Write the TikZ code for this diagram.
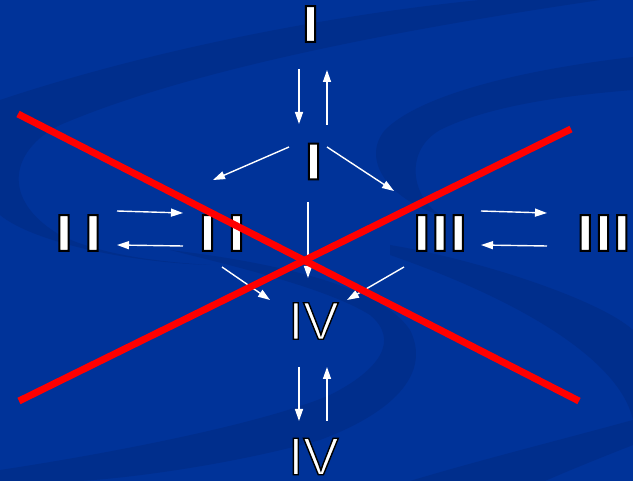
\documentclass[tikz,border=0pt]{standalone}
\usepackage{fontspec}
\usetikzlibrary{arrows.meta}
\newfontfamily\barfont{DejaVu Sans}
\newfontfamily\ivfont{Liberation Sans}
\definecolor{bgblue}{RGB}{0,51,153}
\definecolor{swirl}{RGB}{0,46,140}
\newcommand\olt[2]{\special{pdf:literal direct #1 w 0 0 0 RG 2 Tr}#2\special{pdf:literal direct 0 Tr}}
\tikzset{
  barnum/.style={font=\barfont\bfseries\fontsize{49}{49}\selectfont, text=white, inner sep=0pt},
  thinnum/.style={font=\ivfont\fontsize{53}{53}\selectfont, text=white, inner sep=0pt},
  arr/.style={white, line width=1.4pt, -{Triangle[length=12pt,width=8pt]}},
  cross/.style={red, line width=7pt},
  band/.style={fill=swirl}
}
\begin{document}
\begin{tikzpicture}[x=1pt,y=-1pt]
\fill[bgblue] (0,0) rectangle (633,481);
\useasboundingbox (0,0) rectangle (633,481);
% background swirls
\fill[band] (0,100) .. controls (150,50) and (330,15) .. (480,0) -- (600,0)
  .. controls (430,25) and (200,65) .. (60,125) .. controls (10,150) and (0,200) .. (60,235)
  .. controls (100,255) and (160,262) .. (210,265) .. controls (120,262) and (30,240) .. (0,215) -- cycle;
\fill[band] (633,57) .. controls (520,70) and (420,95) .. (385,130) .. controls (360,160) and (390,200) .. (440,215)
  .. controls (410,195) and (405,150) .. (440,130) .. controls (490,105) and (570,95) .. (633,90) -- cycle;
\fill[band] (390,245) .. controls (480,260) and (600,300) .. (633,330) -- (633,420)
  .. controls (620,360) and (520,300) .. (390,255) -- cycle;
\fill[band] (410,481) .. controls (480,460) and (560,440) .. (633,420) -- (633,445)
  .. controls (600,458) and (570,470) .. (545,481) -- cycle;
\fill[band] (0,481) -- (0,470) .. controls (100,455) and (260,425) .. (330,395)
  .. controls (380,370) and (400,340) .. (370,315) .. controls (330,290) and (250,270) .. (170,250)
  .. controls (270,262) and (380,285) .. (410,330) .. controls (430,370) and (400,410) .. (320,440)
  .. controls (230,465) and (130,478) .. (80,481) -- cycle;
% numerals
\node[barnum] (Itop) at (310.5,24) {\olt{2}{I}};
\node[barnum] (Imid) at (313.5,161.5) {\olt{2}{I}};
\node[barnum] (IIl) at (78.5,233) {\olt{2}{I\hspace{10.8pt}I}};
\node[barnum] (IIm) at (222,233) {\olt{2}{I\hspace{10.8pt}I}};
\node[barnum] (IIIm) at (440,233) {\olt{2}{III}};
\node[barnum] (IIIr) at (603.5,233) {\olt{2}{III}};
\node[thinnum] (IVm) at (313.5,321) {\olt{1.4}{IV}};
\node[thinnum] (IVb) at (313.5,456.5) {\olt{1.4}{IV}};
% arrow end points
\coordinate (a1s) at (299,69);  \coordinate (a1e) at (299,124);
\coordinate (a2s) at (327,125); \coordinate (a2e) at (327,70);
\coordinate (a3s) at (289,147); \coordinate (a3e) at (213,180);
\coordinate (a4s) at (327,147); \coordinate (a4e) at (394,191);
\coordinate (a5s) at (117,211); \coordinate (a5e) at (183,213);
\coordinate (a6s) at (183,246); \coordinate (a6e) at (117,245);
\coordinate (a7s) at (481,211); \coordinate (a7e) at (547,213);
\coordinate (a8s) at (547,246); \coordinate (a8e) at (481,245);
\coordinate (a9s) at (308,202); \coordinate (a9e) at (308,278);
\coordinate (a10s) at (222,267); \coordinate (a10e) at (270,300);
\coordinate (a11s) at (404,267); \coordinate (a11e) at (347,300);
\coordinate (a12s) at (299,367); \coordinate (a12e) at (299,421);
\coordinate (a13s) at (327,421); \coordinate (a13e) at (327,367);
\foreach \k in {1,...,13} { \draw[arr] (a\k s) -- (a\k e); }
% red cross
\coordinate (r1s) at (18,114);  \coordinate (r1e) at (579,401);
\coordinate (r2s) at (19,401);  \coordinate (r2e) at (571,129);
\draw[cross] (r1s) -- (r1e);
\draw[cross] (r2s) -- (r2e);
\end{tikzpicture}
\end{document}
